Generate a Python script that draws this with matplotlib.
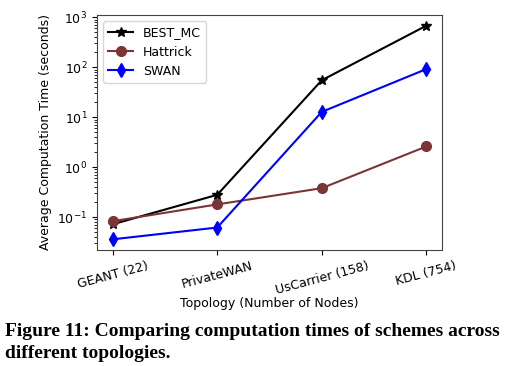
import numpy as np
import matplotlib
matplotlib.use('Agg')
from matplotlib import pyplot as plt

topologies = ['GEANT (22)', 'PrivateWAN', 'UsCarrier (158)', 'KDL (754)']
best_mc = [0.072, 0.28, 55, 680]
hattrick = [0.083, 0.18, 0.38, 2.6]
swan = [0.036, 0.062, 12.8, 92]

fig = plt.figure(figsize=(5.22, 3.66), dpi=100)
ax = fig.add_axes([97/522, 1-250/366, 345/522, 235/366])

x = np.arange(len(topologies))
ax.plot(x, best_mc, color='black', marker='*', markersize=7, lw=1.5, label='BEST_MC')
ax.plot(x, hattrick, color='#7b3535', marker='o', markersize=7, lw=1.5, label='Hattrick')
ax.plot(x, swan, color='blue', marker='d', markersize=7, lw=1.5, label='SWAN')
ax.set_yscale('log')

ax.set_xticks(x)
ax.set_xticklabels(topologies, rotation=15, fontsize=9)
ax.tick_params(axis='y', labelsize=9)
ax.set_xlabel('Topology (Number of Nodes)', fontsize=9, labelpad=0)
ax.set_ylabel('Average Computation Time (seconds)', fontsize=9)
ax.legend(loc='upper left', fontsize=9)
for s in ax.spines.values():
    s.set_color('#444444')

fig.text(5/522, 1-331/366, 'Figure 11: Comparing computation times of schemes across',
         family='Liberation Serif', fontweight='bold', fontsize=14, va='center')
fig.text(5/522, 1-353/366, 'different topologies.',
         family='Liberation Serif', fontweight='bold', fontsize=14, va='center')

fig.savefig('out.png', dpi=100)
